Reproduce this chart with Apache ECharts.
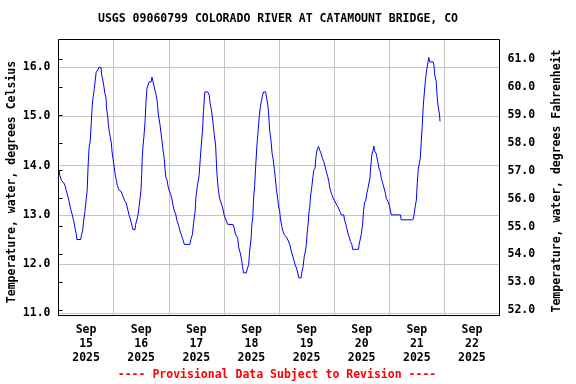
<!DOCTYPE html>
<html>
<head>
<meta charset="utf-8">
<script src="https://cdn.jsdelivr.net/npm/echarts@6/dist/echarts.min.js"></script>
<style>
html,body{margin:0;padding:0;background:#fff;}
#chart{width:576px;height:384px;}
</style>
</head>
<body>
<div id="chart"></div>
<script>
// Hours since 2025-09-15 00:00 and water temperature (deg C)
const hours = [0.3,0.6,1.3,2.3,2.8,3.2,3.9,4.5,4.9,5.4,6.0,6.7,7.3,7.7,8.0,9.7,10.0,10.5,10.9,11.5,12.1,12.5,12.8,13.1,13.4,13.8,14.3,14.7,15.1,15.6,16.0,16.4,17.2,17.6,18.5,18.8,19.3,19.8,20.2,20.7,20.9,21.4,21.7,22.1,22.5,23.0,23.3,23.7,24.3,24.7,25.2,25.6,26.3,27.2,27.8,28.7,29.5,30.0,30.7,31.1,31.7,32.4,33.3,33.6,34.5,35.1,35.5,35.9,36.2,36.5,36.8,37.2,37.7,38.1,38.5,39.0,39.4,40.3,40.7,41.2,42.3,42.8,43.1,43.5,44.2,44.9,45.5,46.1,46.4,46.8,47.3,47.7,48.1,48.9,49.5,49.9,50.3,51.1,51.6,52.4,52.9,53.4,54.0,54.8,57.2,57.6,58.3,58.8,59.5,59.8,60.5,61.2,61.7,62.3,62.7,63.1,63.7,64.9,65.6,66.0,66.6,67.2,67.8,68.4,68.7,69.0,69.5,70.1,70.7,71.1,71.6,72.1,72.7,73.6,76.1,76.5,77.1,78.0,78.5,79.1,79.7,80.1,80.6,81.7,82.3,82.8,83.2,83.8,84.2,84.6,84.9,85.4,85.8,86.4,87.0,87.4,87.9,88.4,88.9,89.3,90.2,90.5,91.1,91.5,91.9,92.5,93.0,93.4,94.0,94.4,94.8,95.4,95.9,96.3,96.6,97.2,97.7,98.3,98.9,99.5,100.1,100.7,101.2,101.8,102.4,103.0,103.6,104.2,104.6,105.6,106.0,106.5,107.0,107.5,107.9,108.2,108.7,109.1,109.4,109.8,110.3,110.8,111.1,111.7,112.1,112.6,113.2,113.7,114.3,114.9,115.5,116.1,116.6,117.2,117.7,118.1,118.5,119.0,119.6,120.1,120.7,121.3,121.9,122.5,123.1,124.2,124.5,125.1,125.5,126.0,126.5,127.1,127.7,128.1,130.6,130.9,131.5,131.8,132.4,132.8,133.2,133.8,134.2,134.7,135.1,135.6,135.9,136.4,136.9,137.3,137.6,138.0,138.3,138.5,139.0,139.5,140.1,140.5,141.2,141.7,142.3,142.7,143.4,143.8,144.4,144.9,148.9,149.2,154.3,154.8,155.3,155.8,156.2,156.6,157.1,157.5,157.9,158.4,158.8,159.3,159.9,160.3,160.7,161.2,161.6,163.1,163.5,163.8,164.4,164.7,165.1,165.5,165.9,166.1];
const tempC = [13.9,13.8,13.7,13.65,13.6,13.53,13.41,13.3,13.2,13.1,13.0,12.86,12.71,12.62,12.5,12.5,12.6,12.67,12.87,13.07,13.34,13.5,13.9,14.2,14.4,14.5,14.9,15.24,15.4,15.57,15.74,15.9,15.95,16.0,16.0,15.84,15.74,15.6,15.47,15.37,15.17,15.01,14.84,14.69,14.59,14.46,14.29,14.15,13.96,13.82,13.7,13.6,13.51,13.48,13.41,13.3,13.24,13.14,13.0,12.94,12.84,12.7,12.7,12.81,12.97,13.17,13.34,13.5,13.8,14.2,14.4,14.6,14.9,15.3,15.57,15.64,15.7,15.7,15.8,15.7,15.47,15.37,15.24,15.03,14.83,14.56,14.32,14.12,13.92,13.75,13.7,13.58,13.51,13.41,13.3,13.19,13.1,13.0,12.88,12.77,12.67,12.6,12.52,12.4,12.4,12.5,12.6,12.83,13.08,13.34,13.6,13.8,14.12,14.5,14.7,15.1,15.5,15.5,15.44,15.27,15.13,14.91,14.63,14.42,14.12,13.82,13.55,13.34,13.3,13.2,13.12,13.0,12.92,12.81,12.8,12.73,12.6,12.53,12.33,12.23,12.09,11.95,11.82,11.82,11.92,11.99,12.26,12.5,12.8,12.97,13.3,13.6,13.95,14.42,14.76,15.0,15.2,15.33,15.44,15.5,15.5,15.4,15.24,15.05,14.73,14.52,14.25,14.15,13.92,13.75,13.55,13.34,13.14,13.07,12.94,12.77,12.67,12.6,12.56,12.53,12.5,12.4,12.29,12.19,12.09,11.99,11.92,11.82,11.72,11.72,11.85,11.95,12.16,12.26,12.4,12.6,12.83,13.07,13.17,13.41,13.58,13.78,13.9,13.95,14.19,14.32,14.39,14.32,14.25,14.15,14.08,13.98,13.88,13.78,13.68,13.55,13.48,13.41,13.34,13.3,13.24,13.19,13.14,13.07,13.0,13.0,12.9,12.81,12.73,12.63,12.56,12.46,12.4,12.3,12.3,12.4,12.4,12.6,12.81,13.07,13.24,13.3,13.44,13.53,13.55,13.75,13.95,14.22,14.3,14.4,14.3,14.3,14.25,14.2,14.08,13.95,13.88,13.75,13.64,13.55,13.44,13.34,13.3,13.24,13.12,13.0,13.0,12.9,12.9,13.0,13.17,13.3,13.64,13.92,14.05,14.15,14.46,14.83,15.21,15.5,15.81,15.95,16.05,16.2,16.11,16.11,16.03,15.84,15.73,15.52,15.27,15.15,15.03,14.9];
const dayLabels = ['Sep\n15\n2025','Sep\n16\n2025','Sep\n17\n2025','Sep\n18\n2025','Sep\n19\n2025','Sep\n20\n2025','Sep\n21\n2025','Sep\n22\n2025'];
const celsiusTicks = {min: 11, max: 16, step: 1};
const fahrenheitTicks = {min: 52, max: 61, step: 1};
const titleText = 'USGS 09060799 COLORADO RIVER AT CATAMOUNT BRIDGE, CO';
const leftTitle = 'Temperature, water, degrees Celsius';
const rightTitle = 'Temperature, water, degrees Fahrenheit';
const footerText = '---- Provisional Data Subject to Revision ----';

const seriesData = hours.map((h, i) => [h, tempC[i]]);

const FONT = 'DejaVu Sans Mono';
const FS = 11.5;
const GRID = '#c4c4c4';

const chart = echarts.init(document.getElementById('chart'), null, {renderer: 'canvas'});
chart.setOption({
  animation: false,
  backgroundColor: '#ffffff',
  grid: [
    {left: 58.5, top: 39.5, width: 441, height: 276, show: true, borderColor: '#000', borderWidth: 1, backgroundColor: 'transparent', z: 10},
    {left: 58.5, top: 67.3, width: 441, height: 246},
    {left: 58.5, top: 59, width: 441, height: 251.3}
  ],
  xAxis: [
    {gridIndex: 0, type: 'category', data: dayLabels, boundaryGap: true, position: 'bottom',
     axisLine: {show: true, lineStyle: {color: '#000', width: 1}}, axisTick: {show: false},
     axisLabel: {show: true, color: '#000', fontFamily: FONT, fontWeight: 'bold', fontSize: FS, lineHeight: 14, margin: 8, interval: 0},
     splitLine: {show: true, lineStyle: {color: GRID, width: 1}}},
    {gridIndex: 1, type: 'value', min: 0, max: 192, show: false},
    {gridIndex: 2, type: 'value', min: 0, max: 1, show: false}
  ],
  yAxis: [
    {gridIndex: 0, type: 'value', min: 0, max: 1, show: false},
    {gridIndex: 1, type: 'value', position: 'left', min: celsiusTicks.min, max: celsiusTicks.max, interval: celsiusTicks.step,
     axisLine: {show: false}, axisTick: {show: false},
     axisLabel: {color: '#000', fontFamily: FONT, fontWeight: 'bold', fontSize: FS, margin: 8, formatter: v => v.toFixed(1)},
     splitLine: {show: true, lineStyle: {color: GRID, width: 1}}},
    {gridIndex: 2, type: 'value', position: 'right', min: fahrenheitTicks.min, max: fahrenheitTicks.max, interval: fahrenheitTicks.step,
     axisLine: {show: false}, axisTick: {show: true, inside: false, length: 4, lineStyle: {color: '#000', width: 1}},
     axisLabel: {color: '#000', fontFamily: FONT, fontWeight: 'bold', fontSize: FS, margin: 8, formatter: v => v.toFixed(1)},
     splitLine: {show: false}}
  ],
  series: [
    {type: 'line', xAxisIndex: 1, yAxisIndex: 1, data: seriesData, showSymbol: false, symbol: 'none', clip: false,
     lineStyle: {color: '#0000ff', width: 1}, z: 3}
  ],
  graphic: [
    {type: 'text', x: 278, y: 19, style: {text: titleText, fill: '#000', font: 'bold ' + FS + 'px "' + FONT + '"', textAlign: 'center', textVerticalAlign: 'middle'}},
    {type: 'text', x: 12, y: 182, rotation: Math.PI / 2, style: {text: leftTitle, fill: '#000', font: 'bold ' + FS + 'px "' + FONT + '"', textAlign: 'center', textVerticalAlign: 'middle'}},
    {type: 'text', x: 557, y: 181, rotation: Math.PI / 2, style: {text: rightTitle, fill: '#000', font: 'bold ' + FS + 'px "' + FONT + '"', textAlign: 'center', textVerticalAlign: 'middle'}},
    {type: 'text', x: 277, y: 375, style: {text: footerText, fill: '#ff0000', font: 'bold ' + FS + 'px "' + FONT + '"', textAlign: 'center', textVerticalAlign: 'middle'}}
  ]
});
</script>
</body>
</html>
